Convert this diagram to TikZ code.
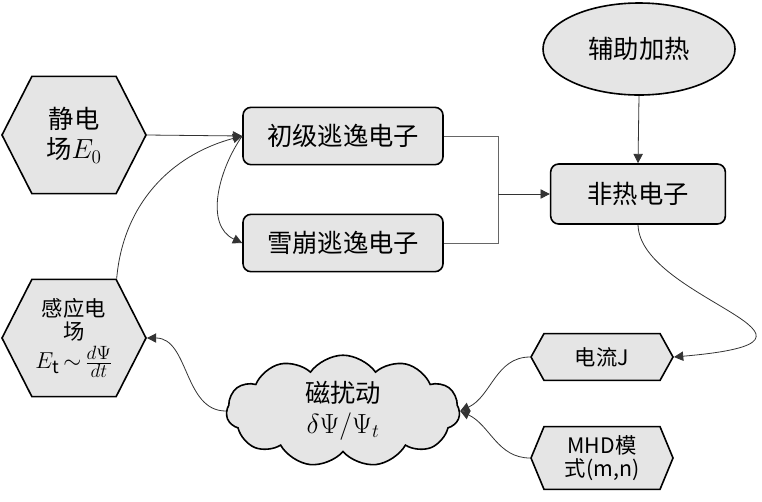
\documentclass[tikz,border=0pt]{standalone}
\usepackage{fontspec}
\setmainfont{Noto Sans CJK SC}
\usepackage{tikz}
\usetikzlibrary{shapes.geometric, shapes.symbols, arrows.meta}
\tikzstyle{hexbig} = [signal, signal to=west and east, signal pointer angle=126, minimum width=108pt,
                      minimum height=88pt, inner sep=0pt, align=center, draw=black, line width=1.2pt, fill=gray!20]
\tikzstyle{hexsm}  = [signal, signal to=west and east, signal pointer angle=122, minimum width=106.5pt,
                      minimum height=35pt, inner sep=0pt, align=center, draw=black, line width=1.2pt, fill=gray!20]
\tikzstyle{box}    = [rectangle, rounded corners=6pt, minimum width=150pt, minimum height=43pt,
                      align=center, draw=black, line width=1.2pt, fill=gray!20]
\tikzstyle{oval}   = [ellipse, minimum width=144pt, minimum height=69pt, align=center,
                      draw=black, line width=1.2pt, fill=gray!20]
\tikzstyle{puff}   = [cloud, cloud puffs=11, cloud puff arc=110, aspect=2.6, minimum width=175pt,
                      minimum height=66pt, inner sep=0pt, align=center, draw=black, line width=1.2pt, fill=gray!20]
\tikzstyle{arrow}  = [line width=0.6pt, draw=black!80, ->, >={Triangle[length=7pt,width=7pt]}]
\tikzstyle{wire}   = [line width=0.6pt, draw=black!60]
\newcommand{\bigtxt}{\fontsize{19}{23}\selectfont}
\newcommand{\smltxt}{\fontsize{16}{17}\selectfont}
\newcommand{\mth}[1]{{\fontsize{22}{23}\selectfont$#1$}}

\begin{document}
\begin{tikzpicture}[x=0.75pt, y=0.75pt, font=\bigtxt]
  \useasboundingbox (0,0) rectangle (762,-501);
  % nodes
  \node (es)   [hexbig] at (74,-135)  {静电\\场\mth{E_0}};
  \node (ie)   [hexbig, font=\smltxt] at (74,-338)
               {感应电\\场\\[3pt]{\fontsize{19}{20}\selectfont$E_{\mathrm{t}}\,{\sim}\,\frac{d\Psi}{dt}$}};
  \node (pre)  [box] at (343,-136) {初级逃逸电子};
  \node (ava)  [box] at (343,-243) {雪崩逃逸电子};
  \node (nt)   [box, minimum width=131pt, minimum height=45pt] at (638,-194) {非热电子};
  \node (heat) [oval] at (639,-49) {辅助加热};
  \node (cur)  [hexsm, font=\smltxt] at (602,-357) {电流J};
  \node (mhd)  [hexsm, font=\smltxt, minimum height=47pt, signal pointer angle=135] at (602,-458) {MHD模\\式(m,n)};
  \node (dpsi) [puff] at (343,-411) {磁扰动\\\mth{\delta\Psi/\Psi_t}};
  \coordinate (jn) at (498,-194);
  % connectors
  \draw [arrow] (es.east) -- (pre.west);
  \draw [arrow] ([xshift=32pt]ie.north) to[out=85, in=195] (pre.west);
  \draw [arrow] (pre.west) to[out=235, in=155] (ava.west);
  \draw [wire] (pre.east) -| (jn);
  \draw [wire] (ava.east) -| (jn);
  \draw [arrow] (jn) -- (nt.west);
  \draw [arrow] (heat.south) -- (nt.north);
  \draw [arrow] (nt.south) .. controls (640,-300) and (870,-340) .. (cur.east);
  \draw [arrow] (cur.west) to[out=180, in=25] (dpsi.east);
  \draw [arrow] (mhd.west) to[out=180, in=-25] (dpsi.east);
  \draw [arrow] (dpsi.west) to[out=180, in=0] (ie.east);
\end{tikzpicture}
\end{document}
